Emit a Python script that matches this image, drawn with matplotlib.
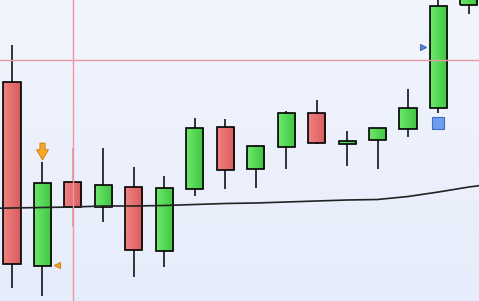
import numpy as np
import matplotlib
matplotlib.use("Agg")
import matplotlib.pyplot as plt
from matplotlib.patches import Rectangle
from matplotlib.path import Path
from matplotlib.colors import LinearSegmentedColormap

# ---------------- DATA (price units) ----------------
opens  = [219, 35, 119, 94, 114, 50, 112, 174, 132, 154, 188, 157, 161, 172, 193, 296]
highs  = [256, 139, 153, 153, 134, 125, 183, 182, 156, 190, 201, 170, 173, 212, 305, 305]
lows   = [13, 5, 74, 79, 24, 34, 105, 112, 113, 132, 157, 135, 132, 164, 188, 287]
closes = [37, 118, 94, 116, 51, 113, 173, 131, 155, 188, 158, 160, 173, 193, 295, 310]

# moving average, one point before and after the visible candles
ma_x = list(range(-1, 17))
ma   = [92.5, 93, 93.5, 94, 95, 95, 95.5, 96.5, 97.5, 98, 99, 100, 101, 101.5, 104.5, 109, 114, 118]

# signal markers: (x, price)
arrow_down = (1, 150)
tri_left = (1.48, 36)
tri_right = (13.49, 254)
square = (14, 178)

cross_x = 2.0
cross_y = 241

# ---------------- PLOT ----------------
fig = plt.figure(figsize=(4.79, 3.01), dpi=100)
ax = fig.add_axes([0, 0, 1, 1])
ax.set_xlim(-0.394, 15.33)
ax.set_ylim(0, 301)
ax.axis("off")

# background vertical gradient
bg = LinearSegmentedColormap.from_list("bg", ["#E6ECFB", "#F2F5FD"])
ax.imshow(np.linspace(0, 1, 100).reshape(-1, 1), cmap=bg, aspect="auto",
          extent=[-0.394, 15.33, 0, 301], origin="lower", zorder=0)

red_cm = LinearSegmentedColormap.from_list("r", ["#F28282", "#D65C5C"])
green_cm = LinearSegmentedColormap.from_list("g", ["#6CE86C", "#40C440"])
grad = np.linspace(0, 1, 50).reshape(1, -1)

w = 0.56
for i, (o, h, l, c) in enumerate(zip(opens, highs, lows, closes)):
    lo, hi = min(o, c), max(o, c)
    # the crosshair sits on candle 2 and hides its wick
    wick = "#E08896" if i == int(cross_x) else "black"
    ax.vlines(i, l, lo, color=wick, lw=1.1, zorder=2)
    ax.vlines(i, hi, h, color=wick, lw=1.1, zorder=2)
    cm = green_cm if c >= o else red_cm
    ax.imshow(grad, cmap=cm, aspect="auto", extent=[i - w / 2, i + w / 2, lo, hi],
              zorder=3, interpolation="bilinear")
    ax.add_patch(Rectangle((i - w / 2, lo), w, max(hi - lo, 0.5), fill=False,
                           ec="black", lw=1.2, zorder=4))

ax.plot(ma_x, ma, color="#222222", lw=1.2, zorder=5)

# block arrow pointing down
arrow_path = Path([(-0.3, 1), (0.3, 1), (0.3, 0.2), (0.7, 0.2), (0, -1),
                   (-0.7, 0.2), (-0.3, 0.2), (-0.3, 1)], closed=True)
ax.plot(*arrow_down, marker=arrow_path, ms=12, mfc="#F7A928", mec="#D98410",
        mew=0.8, zorder=6)
ax.plot(*tri_left, marker="<", ms=5, mfc="#F7A928", mec="#D98410", mew=0.8, zorder=6)
ax.plot(*tri_right, marker=">", ms=5, mfc="#5A86D8", mec="#3D66B8", mew=0.8, zorder=6)
ax.plot(*square, marker="s", ms=9, mfc="#6E9EF0", mec="#3F6CC4", mew=0.8, zorder=6)

# crosshair
ax.axvline(cross_x, color="#EC98A4", lw=1, zorder=7)
ax.axhline(cross_y, color="#EC98A4", lw=1, zorder=7)

fig.savefig("out.png", dpi=100)
